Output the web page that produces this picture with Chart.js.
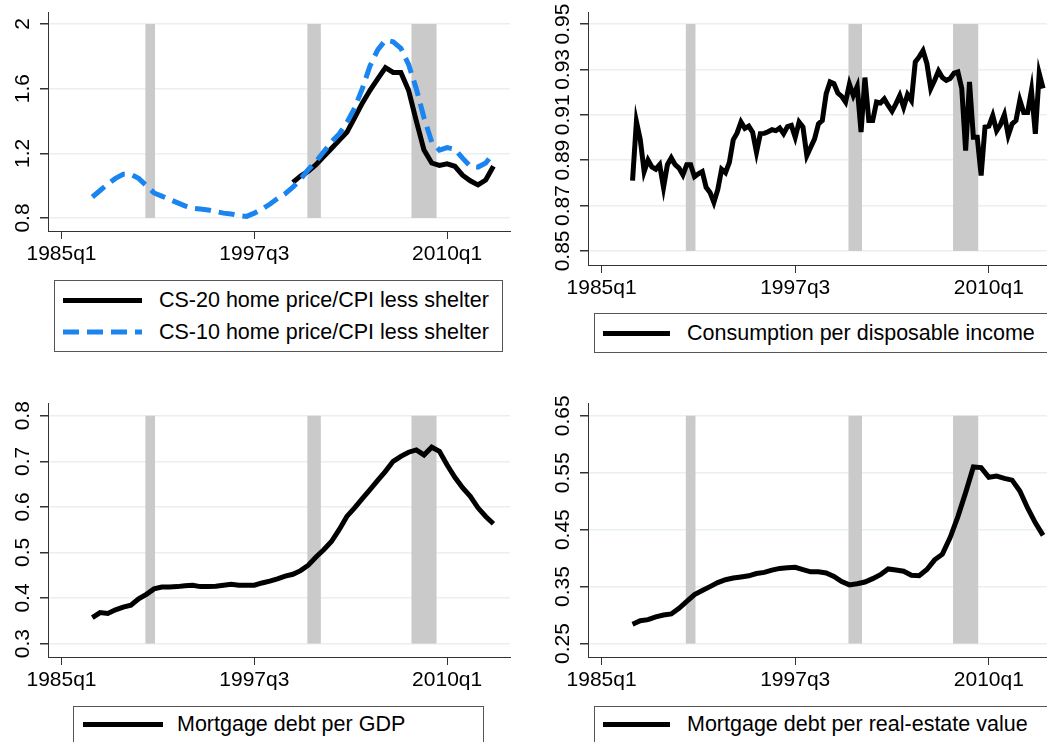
<!DOCTYPE html>
<html>
<head>
<meta charset="utf-8">
<script src="https://cdn.jsdelivr.net/npm/chart.js@4.4.1/dist/chart.umd.min.js"></script>
<style>
body { margin:0; width:1047px; height:742px; overflow:hidden; background:#fff; position:relative;
       font-family:"Liberation Sans", Arial, Helvetica, sans-serif; }
canvas { position:absolute; }
.box { position:absolute; border:1px solid #555; box-sizing:border-box; background:#fff; }
.txt { position:absolute; font-size:21.5px; line-height:24px; color:#000; white-space:nowrap; }
.solid { position:absolute; height:5px; background:#000; }
svg { position:absolute; }
</style>
</head>
<body>
<canvas id="c1" width="520" height="270" style="left:0;top:0"></canvas>
<canvas id="c2" width="522" height="304" style="left:540px;top:0"></canvas>
<canvas id="c3" width="520" height="305" style="left:0;top:391px"></canvas>
<canvas id="c4" width="522" height="305" style="left:540px;top:391px"></canvas>

<!-- legends -->
<div class="box" style="left:54px;top:280px;width:449px;height:72px"></div>
<div class="solid" style="left:63px;top:298px;width:79px"></div>
<div class="txt" style="left:159px;top:288px">CS-20 home price/CPI less shelter</div>
<svg style="left:63px;top:329px" width="79" height="6"><line x1="0" y1="3" x2="79" y2="3" stroke="#1a85f0" stroke-width="5" stroke-dasharray="16 8"/></svg>
<div class="txt" style="left:159px;top:320px">CS-10 home price/CPI less shelter</div>

<div class="box" style="left:594px;top:313px;width:460px;height:40px"></div>
<div class="solid" style="left:603px;top:331px;width:67px"></div>
<div class="txt" style="left:687px;top:321px">Consumption per disposable income</div>

<div class="box" style="left:73px;top:706px;width:411px;height:50px"></div>
<div class="solid" style="left:83px;top:722px;width:80px"></div>
<div class="txt" style="left:177px;top:712px">Mortgage debt per GDP</div>

<div class="box" style="left:594px;top:706px;width:460px;height:50px"></div>
<div class="solid" style="left:603px;top:722px;width:67px"></div>
<div class="txt" style="left:687px;top:712px">Mortgage debt per real-estate value</div>

<script>
// 공통 데이터
const recessions = [['1990q3', '1991q1'], ['2001q1', '2001q4'], ['2007q4', '2009q2']];
const xTickQuarters = ['1985q1', '1997q3', '2010q1'];

// 패널 1 : 반기 간격 (2분기)
const cs20Start = '2000q1';
const cs20 = [1.02, 1.06, 1.09, 1.13, 1.18, 1.23, 1.28, 1.33, 1.42, 1.51, 1.59, 1.66, 1.73, 1.70,
  1.70, 1.59, 1.40, 1.22, 1.14, 1.125, 1.135, 1.12, 1.065, 1.03, 1.005, 1.035, 1.12];
const cs10Start = '1987q1';
const cs10 = [0.93, 0.97, 1.01, 1.045, 1.07, 1.07, 1.045, 1.00, 0.955, 0.935, 0.915, 0.895, 0.875,
  0.86, 0.855, 0.85, 0.84, 0.83, 0.825, 0.815, 0.81, 0.83, 0.855, 0.885, 0.92, 0.95, 0.99, 1.04,
  1.10, 1.15, 1.21, 1.27, 1.32, 1.39, 1.48, 1.60, 1.74, 1.84, 1.90, 1.89, 1.85, 1.75, 1.60, 1.42,
  1.27, 1.22, 1.235, 1.225, 1.17, 1.12, 1.115, 1.14, 1.20];
const p1YTicks = [0.8, 1.2, 1.6, 2];
const p1YLabels = ['0.8', '1.2', '1.6', '2'];

// 패널 2 : 분기별
const consStart = '1987q1';
const consumption = [0.881, 0.907, 0.899, 0.885, 0.890, 0.887, 0.886, 0.888, 0.878, 0.888, 0.891,
  0.888, 0.8865, 0.8835, 0.888, 0.888, 0.8827, 0.884, 0.885, 0.878, 0.8758, 0.8714, 0.877, 0.886,
  0.8845, 0.889, 0.899, 0.902, 0.9068, 0.904, 0.905, 0.9023, 0.8935, 0.9017, 0.9018, 0.9025,
  0.9034, 0.903, 0.9042, 0.9017, 0.9048, 0.9053, 0.9001, 0.9068, 0.9046, 0.892, 0.8957, 0.8994,
  0.906, 0.9075, 0.9193, 0.9245, 0.9237, 0.9196, 0.9181, 0.9156, 0.9235, 0.9185, 0.9225, 0.9024,
  0.9264, 0.9075, 0.9075, 0.9156, 0.9152, 0.917, 0.9141, 0.9116, 0.9148, 0.9185, 0.9133, 0.9189,
  0.9163, 0.9333, 0.9355, 0.9382, 0.9326, 0.9216, 0.9252, 0.9293, 0.9264, 0.9252, 0.926, 0.9284,
  0.9289, 0.9216, 0.8942, 0.9245, 0.9001, 0.9001, 0.8832, 0.9046, 0.905, 0.9096, 0.903, 0.9057,
  0.910, 0.9009, 0.906, 0.9075, 0.9164, 0.911, 0.911, 0.9208, 0.9016, 0.9282, 0.9216];
const p2YTicks = [0.85, 0.87, 0.89, 0.91, 0.93, 0.95];
const p2YLabels = ['0.85', '0.87', '0.89', '0.91', '0.93', '0.95'];

// 패널 3 : 반기 간격
const gdpStart = '1987q1';
const debtGdp = [0.357, 0.368, 0.366, 0.374, 0.380, 0.384, 0.398, 0.408, 0.420, 0.424,
  0.424, 0.425, 0.427, 0.428, 0.425, 0.425, 0.426, 0.428, 0.430, 0.428,
  0.428, 0.428, 0.433, 0.437, 0.442, 0.448, 0.452, 0.460, 0.472, 0.490,
  0.506, 0.524, 0.550, 0.579, 0.598, 0.618, 0.638, 0.658, 0.678, 0.700,
  0.711, 0.720, 0.725, 0.714, 0.731, 0.722, 0.692, 0.665, 0.642, 0.623,
  0.598, 0.579, 0.563];
const p3YTicks = [0.3, 0.4, 0.5, 0.6, 0.7, 0.8];
const p3YLabels = ['0.3', '0.4', '0.5', '0.6', '0.7', '0.8'];

// 패널 4 : 반기 간격
const reStart = '1987q1';
const debtRe = [0.284, 0.290, 0.292, 0.297, 0.300, 0.302, 0.312, 0.324, 0.336, 0.343,
  0.350, 0.357, 0.362, 0.365, 0.367, 0.369, 0.373, 0.375, 0.379, 0.382,
  0.383, 0.384, 0.380, 0.376, 0.376, 0.374, 0.368, 0.359, 0.353, 0.355,
  0.358, 0.364, 0.371, 0.381, 0.379, 0.377, 0.370, 0.369, 0.380, 0.397,
  0.407, 0.436, 0.473, 0.515, 0.560, 0.559, 0.542, 0.544, 0.540, 0.537,
  0.518, 0.488, 0.462, 0.440];
const p4YTicks = [0.25, 0.35, 0.45, 0.55, 0.65];
const p4YLabels = ['0.25', '0.35', '0.45', '0.55', '0.65'];

const FONT = '"Liberation Sans", Arial, Helvetica, sans-serif';
const BLUE = '#1a85f0';
const LW = 5;

// '1987q1' -> 1985q1부터 분기 수
function toQ(s) {
  const [y, q] = s.split('q').map(Number);
  return (y - 1985) * 4 + (q - 1);
}

function points(start, values, step) {
  const q0 = toQ(start);
  return values.map((v, i) => ({ x: q0 + i * step, y: v }));
}

// 경기침체 음영
const shadePlugin = {
  id: 'shade',
  beforeDatasetsDraw(chart, args, opts) {
    const { ctx, scales: { x, y } } = chart;
    const top = y.getPixelForValue(opts.hi);
    const bot = y.getPixelForValue(opts.lo);
    ctx.save();
    ctx.fillStyle = '#cacaca';
    recessions.forEach(r => {
      const a = x.getPixelForValue(toQ(r[0]) - 0.25);
      const b = x.getPixelForValue(toQ(r[1]) + 0.25);
      ctx.fillRect(a, top, b - a, bot - top);
    });
    ctx.restore();
  }
};

// 세로로 회전된 y축 라벨
const yLabelPlugin = {
  id: 'ylabels',
  afterDraw(chart, args, opts) {
    const { ctx, scales: { y } } = chart;
    ctx.save();
    ctx.font = '21px ' + FONT;
    ctx.fillStyle = '#000';
    ctx.textAlign = 'center';
    ctx.textBaseline = 'alphabetic';
    opts.ticks.forEach((v, i) => {
      ctx.save();
      ctx.translate(y.right - 19, y.getPixelForValue(v));
      ctx.rotate(-Math.PI / 2);
      ctx.fillText(opts.labels[i], 0, 0);
      ctx.restore();
    });
    ctx.restore();
  }
};

function makeChart(id, datasets, yMin, yMax, yTicks, yLabels) {
  return new Chart(document.getElementById(id), {
    type: 'line',
    data: { datasets },
    options: {
      responsive: false,
      animation: false,
      layout: { padding: { left: 0, right: 10, top: 12, bottom: 0 } },
      elements: { point: { radius: 0 }, line: { tension: 0 } },
      plugins: {
        legend: { display: false },
        tooltip: { enabled: false },
        shade: { lo: yTicks[0], hi: yTicks[yTicks.length - 1] },
        ylabels: { ticks: yTicks, labels: yLabels }
      },
      scales: {
        x: {
          type: 'linear', min: -3.5, max: 116.3,
          afterBuildTicks: s => { s.ticks = xTickQuarters.map(q => ({ value: toQ(q) })); },
          afterFit: s => { s.height = 39; },
          ticks: {
            callback: v => xTickQuarters.find(q => toQ(q) === v),
            font: { size: 21, family: FONT }, color: '#000', padding: 3,
            maxRotation: 0, autoSkip: false
          },
          grid: { drawOnChartArea: false, drawTicks: true, tickLength: 8, tickColor: '#333' },
          border: { display: true, color: '#333', width: 1 }
        },
        y: {
          min: yMin, max: yMax,
          afterBuildTicks: s => { s.ticks = yTicks.map(v => ({ value: v })); },
          afterFit: s => { s.width = 48; },
          ticks: { display: false },
          grid: { color: '#e8f0f2', lineWidth: 1.5, drawTicks: true, tickLength: 8, tickColor: '#333' },
          border: { display: true, color: '#333', width: 1 }
        }
      }
    },
    plugins: [shadePlugin, yLabelPlugin]
  });
}

const black = (label, data) => ({ label, data, borderColor: '#000', borderWidth: LW, fill: false });

makeChart('c1', [
  { label: 'CS-10 home price/CPI less shelter', data: points(cs10Start, cs10, 2),
    borderColor: BLUE, borderWidth: LW, borderDash: [16, 8], fill: false },
  black('CS-20 home price/CPI less shelter', points(cs20Start, cs20, 2))
], 0.7196, 2.074, p1YTicks, p1YLabels);

makeChart('c2', [
  black('Consumption per disposable income', points(consStart, consumption, 1))
], 0.8438, 0.9553, p2YTicks, p2YLabels);

makeChart('c3', [
  black('Mortgage debt per GDP', points(gdpStart, debtGdp, 2))
], 0.2705, 0.828, p3YTicks, p3YLabels);

makeChart('c4', [
  black('Mortgage debt per real-estate value', points(reStart, debtRe, 2))
], 0.2264, 0.6724, p4YTicks, p4YLabels);
</script>
</body>
</html>
